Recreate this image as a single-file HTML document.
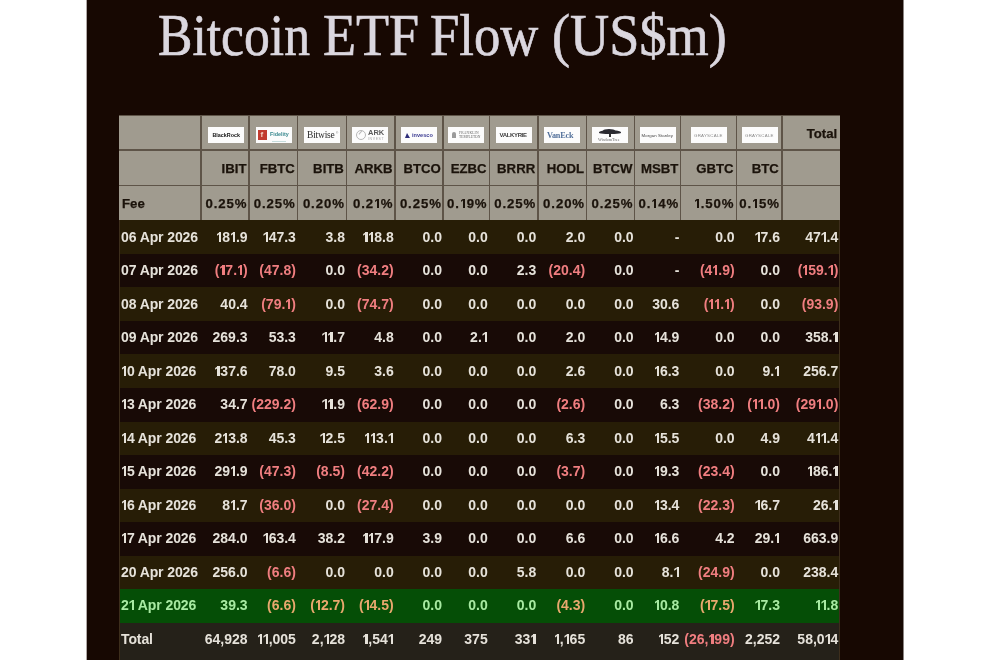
<!DOCTYPE html>
<html><head><meta charset="utf-8"><style>
html,body{margin:0;padding:0;background:#fff;width:990px;height:660px;overflow:hidden;}
#p{left:87px;top:0;width:816px;height:660px;background:#170802;}
#wrap>div,#wrap>span,.lg span{position:absolute;}
#wrap{position:absolute;left:0;top:0;width:990px;height:660px;background:#fff;filter:blur(0.35px);}
.o,.oh{display:inline-block;position:relative;width:5.9px;height:10px;}
.o::before,.oh::before{content:"";position:absolute;left:3.0px;top:0;width:2.1px;height:100%;background:currentColor;}
.o::after,.oh::after{content:"";position:absolute;left:0.7px;top:0.2px;width:2.6px;height:3.5px;background:currentColor;clip-path:polygon(100% 0,100% 50%,0 100%,0 55%);}
.oh{width:6.0px;height:9.45px;margin-right:0.9px;}
.oh::before{left:3.0px;width:2.0px;}
.oh::after{left:0.8px;width:2.4px;height:3.6px;}
.t{display:block;will-change:transform;height:20px;line-height:20px;white-space:nowrap;font-family:"Liberation Sans",sans-serif;font-weight:bold;}
.lg{background:#fcfcfc;overflow:hidden;will-change:transform;}
.lg span{white-space:nowrap;}
.w{top:0.2px;height:70px;line-height:70px;font-family:"Liberation Serif",serif;font-size:59px;color:#dbd7df;-webkit-text-stroke:0.7px #dbd7df;transform-origin:0 0;white-space:nowrap;}
</style></head><body><div id="wrap">
<div id="p"></div>
<div style="left:86px;top:0;width:1px;height:660px;background:#b0a8a6;"></div>
<div style="left:903px;top:0;width:1px;height:660px;background:#8a8482;"></div>
<span class="w" style="left:158.12px;transform:scaleX(0.8750);">Bitcoin</span>
<span class="w" style="left:323.08px;transform:scaleX(0.9167);">ETF</span>
<span class="w" style="left:430.11px;transform:scaleX(0.8926);">Flow</span>
<span class="w" style="left:551.66px;transform:scaleX(0.9194);">(US$m)</span>

<div style="left:119.00px;top:115.00px;width:720.50px;height:105.30px;background:#a09b8f;"></div>
<div style="left:119.00px;top:115.00px;width:720.50px;height:1.00px;background:#5e5448;"></div>
<div style="left:119.00px;top:149.25px;width:720.50px;height:1.50px;background:#5e5448;"></div>
<div style="left:119.00px;top:184.85px;width:720.50px;height:1.50px;background:#5e5448;"></div>
<div style="left:200.25px;top:115.00px;width:1.50px;height:105.30px;background:#5e5448;"></div>
<div style="left:248.25px;top:115.00px;width:1.50px;height:105.30px;background:#5e5448;"></div>
<div style="left:296.55px;top:115.00px;width:1.50px;height:105.30px;background:#5e5448;"></div>
<div style="left:345.95px;top:115.00px;width:1.50px;height:105.30px;background:#5e5448;"></div>
<div style="left:394.05px;top:115.00px;width:1.50px;height:105.30px;background:#5e5448;"></div>
<div style="left:442.45px;top:115.00px;width:1.50px;height:105.30px;background:#5e5448;"></div>
<div style="left:488.55px;top:115.00px;width:1.50px;height:105.30px;background:#5e5448;"></div>
<div style="left:537.25px;top:115.00px;width:1.50px;height:105.30px;background:#5e5448;"></div>
<div style="left:585.85px;top:115.00px;width:1.50px;height:105.30px;background:#5e5448;"></div>
<div style="left:633.85px;top:115.00px;width:1.50px;height:105.30px;background:#5e5448;"></div>
<div style="left:679.65px;top:115.00px;width:1.50px;height:105.30px;background:#5e5448;"></div>
<div style="left:735.65px;top:115.00px;width:1.50px;height:105.30px;background:#5e5448;"></div>
<div style="left:781.05px;top:115.00px;width:1.50px;height:105.30px;background:#5e5448;"></div>
<div class="lg" style="left:207.60px;top:127px;width:36px;height:16px;"><span style="left:4.4px;top:5px;font:bold 5.4px/7px 'Liberation Sans',sans-serif;color:#141414;">BlackRock</span></div>
<div class="lg" style="left:255.60px;top:127px;width:36px;height:16px;"><span style="left:2.4px;top:3px;width:9px;height:9.5px;background:#c23b2f;"></span><span style="left:4.6px;top:3.2px;font:bold 8px/9px 'Liberation Sans',sans-serif;color:#f3d0c0;">f</span><span style="left:14px;top:4.3px;font:bold 5.4px/7px 'Liberation Sans',sans-serif;color:#3b8a90;">Fidelity</span><span style="left:16px;top:13.5px;width:14px;height:0.8px;background:#c6dcdc;"></span></div>
<div class="lg" style="left:303.70px;top:127px;width:36px;height:16px;"><span style="left:3px;top:1.5px;font:9.5px/12px 'Liberation Serif',serif;color:#2a2a2a;letter-spacing:-0.2px;">Bitwise</span><span style="left:32px;top:5px;font:3px/3px 'Liberation Sans',sans-serif;color:#777;">&#174;</span></div>
<div class="lg" style="left:352.30px;top:127px;width:36px;height:16px;"><span style="left:3.5px;top:2.5px;width:10px;height:10px;border:1px solid #b8b8b8;border-radius:50%;box-sizing:border-box;"></span><span style="left:6px;top:5px;width:5px;height:1px;background:#bbb;transform:rotate(-50deg);"></span><span style="left:16px;top:1px;font:bold 7.5px/10px 'Liberation Sans',sans-serif;color:#5a5a5a;">ARK</span><span style="left:16px;top:10px;font:3.5px/5px 'Liberation Sans',sans-serif;color:#aaa;letter-spacing:0.6px;">INVEST</span></div>
<div class="lg" style="left:401.20px;top:127px;width:36px;height:16px;"><span style="left:4px;top:6px;width:0;height:0;border-left:2px solid transparent;border-right:3px solid transparent;border-bottom:5px solid #2e2e7a;"></span><span style="left:11px;top:4.5px;font:bold 5.6px/7px 'Liberation Sans',sans-serif;color:#3b3b92;">invesco</span></div>
<div class="lg" style="left:448.00px;top:127px;width:36px;height:16px;"><span style="left:4px;top:5px;width:4px;height:6px;background:#9a9a9a;border-radius:2px 2px 0 0;"></span><span style="left:11px;top:3.5px;font:3.6px/4.5px 'Liberation Serif',serif;color:#666;letter-spacing:0.2px;">FRANKLIN</span><span style="left:11px;top:8px;font:3.6px/4.5px 'Liberation Serif',serif;color:#666;">TEMPLETON</span></div>
<div class="lg" style="left:495.70px;top:127px;width:36px;height:16px;"><span style="left:3.5px;top:4px;font:bold 6px/8px 'Liberation Sans',sans-serif;color:#3a3a3a;letter-spacing:-0.35px;">VALKYRIE</span></div>
<div class="lg" style="left:543.80px;top:127px;width:36px;height:16px;"><span style="left:3px;top:2.5px;font:bold 8.2px/11px 'Liberation Serif',serif;color:#52709a;letter-spacing:-0.2px;">VanEck</span></div>
<div class="lg" style="left:592.10px;top:127px;width:36px;height:16px;"><span style="left:7px;top:2.5px;width:22px;height:4.5px;background:#2a2a30;border-radius:50% 50% 30% 30%;"></span><span style="left:11px;top:1.5px;width:12px;height:3px;background:#2a2a30;border-radius:50%;"></span><span style="left:17px;top:6.5px;width:2px;height:3px;background:#333;"></span><span style="left:6px;top:10px;font:4.2px/5px 'Liberation Serif',serif;color:#666;">WisdomTree</span></div>
<div class="lg" style="left:640.30px;top:127px;width:36px;height:16px;"><span style="left:1.5px;top:4.5px;font:4.3px/7px 'Liberation Sans',sans-serif;color:#444;letter-spacing:0.1px;">Morgan Stanley</span></div>
<div class="lg" style="left:691.00px;top:127px;width:36px;height:16px;"><span style="left:3px;top:4.8px;font:4.4px/7px 'Liberation Sans',sans-serif;color:#8a8a8a;letter-spacing:0.25px;">GRAYSCALE</span></div>
<div class="lg" style="left:741.50px;top:127px;width:36px;height:16px;"><span style="left:3px;top:4.8px;font:4.4px/7px 'Liberation Sans',sans-serif;color:#8a8a8a;letter-spacing:0.25px;">GRAYSCALE</span></div>
<span class="t" style="left:781.80px;width:55.20px;top:124.00px;text-align:right;color:#1b130b;font-size:13.2px;-webkit-text-stroke:0.25px #1b130b;">Total</span>
<span class="t" style="left:201.00px;width:45.50px;top:158.80px;text-align:right;color:#1b130b;font-size:13.2px;-webkit-text-stroke:0.25px #1b130b;">IBIT</span>
<span class="t" style="left:201.00px;width:46.40px;top:193.70px;text-align:right;color:#1b130b;font-size:13.2px;letter-spacing:0.9px;-webkit-text-stroke:0.25px #1b130b;">0.25%</span>
<span class="t" style="left:249.00px;width:45.80px;top:158.80px;text-align:right;color:#1b130b;font-size:13.2px;-webkit-text-stroke:0.25px #1b130b;">FBTC</span>
<span class="t" style="left:249.00px;width:46.70px;top:193.70px;text-align:right;color:#1b130b;font-size:13.2px;letter-spacing:0.9px;-webkit-text-stroke:0.25px #1b130b;">0.25%</span>
<span class="t" style="left:297.30px;width:46.90px;top:158.80px;text-align:right;color:#1b130b;font-size:13.2px;-webkit-text-stroke:0.25px #1b130b;">BITB</span>
<span class="t" style="left:297.30px;width:47.80px;top:193.70px;text-align:right;color:#1b130b;font-size:13.2px;letter-spacing:0.9px;-webkit-text-stroke:0.25px #1b130b;">0.20%</span>
<span class="t" style="left:346.70px;width:45.60px;top:158.80px;text-align:right;color:#1b130b;font-size:13.2px;-webkit-text-stroke:0.25px #1b130b;">ARKB</span>
<span class="t" style="left:346.70px;width:46.50px;top:193.70px;text-align:right;color:#1b130b;font-size:13.2px;letter-spacing:0.9px;-webkit-text-stroke:0.25px #1b130b;">0.2<span class="oh"></span>%</span>
<span class="t" style="left:394.80px;width:45.90px;top:158.80px;text-align:right;color:#1b130b;font-size:13.2px;-webkit-text-stroke:0.25px #1b130b;">BTCO</span>
<span class="t" style="left:394.80px;width:46.80px;top:193.70px;text-align:right;color:#1b130b;font-size:13.2px;letter-spacing:0.9px;-webkit-text-stroke:0.25px #1b130b;">0.25%</span>
<span class="t" style="left:443.20px;width:43.60px;top:158.80px;text-align:right;color:#1b130b;font-size:13.2px;-webkit-text-stroke:0.25px #1b130b;">EZBC</span>
<span class="t" style="left:443.20px;width:44.50px;top:193.70px;text-align:right;color:#1b130b;font-size:13.2px;letter-spacing:0.9px;-webkit-text-stroke:0.25px #1b130b;">0.<span class="oh"></span>9%</span>
<span class="t" style="left:489.30px;width:46.20px;top:158.80px;text-align:right;color:#1b130b;font-size:13.2px;-webkit-text-stroke:0.25px #1b130b;">BRRR</span>
<span class="t" style="left:489.30px;width:47.10px;top:193.70px;text-align:right;color:#1b130b;font-size:13.2px;letter-spacing:0.9px;-webkit-text-stroke:0.25px #1b130b;">0.25%</span>
<span class="t" style="left:538.00px;width:46.10px;top:158.80px;text-align:right;color:#1b130b;font-size:13.2px;-webkit-text-stroke:0.25px #1b130b;">HODL</span>
<span class="t" style="left:538.00px;width:47.00px;top:193.70px;text-align:right;color:#1b130b;font-size:13.2px;letter-spacing:0.9px;-webkit-text-stroke:0.25px #1b130b;">0.20%</span>
<span class="t" style="left:586.60px;width:45.50px;top:158.80px;text-align:right;color:#1b130b;font-size:13.2px;-webkit-text-stroke:0.25px #1b130b;">BTCW</span>
<span class="t" style="left:586.60px;width:46.40px;top:193.70px;text-align:right;color:#1b130b;font-size:13.2px;letter-spacing:0.9px;-webkit-text-stroke:0.25px #1b130b;">0.25%</span>
<span class="t" style="left:634.60px;width:43.30px;top:158.80px;text-align:right;color:#1b130b;font-size:13.2px;-webkit-text-stroke:0.25px #1b130b;">MSBT</span>
<span class="t" style="left:634.60px;width:44.20px;top:193.70px;text-align:right;color:#1b130b;font-size:13.2px;letter-spacing:0.9px;-webkit-text-stroke:0.25px #1b130b;">0.<span class="oh"></span>4%</span>
<span class="t" style="left:680.40px;width:53.50px;top:158.80px;text-align:right;color:#1b130b;font-size:13.2px;-webkit-text-stroke:0.25px #1b130b;">GBTC</span>
<span class="t" style="left:680.40px;width:54.40px;top:193.70px;text-align:right;color:#1b130b;font-size:13.2px;letter-spacing:0.9px;-webkit-text-stroke:0.25px #1b130b;"><span class="oh"></span>.50%</span>
<span class="t" style="left:736.40px;width:42.90px;top:158.80px;text-align:right;color:#1b130b;font-size:13.2px;-webkit-text-stroke:0.25px #1b130b;">BTC</span>
<span class="t" style="left:736.40px;width:43.80px;top:193.70px;text-align:right;color:#1b130b;font-size:13.2px;letter-spacing:0.9px;-webkit-text-stroke:0.25px #1b130b;">0.<span class="oh"></span>5%</span>
<span class="t" style="left:122.00px;width:82.00px;top:193.50px;text-align:left;color:#1b130b;font-size:13.2px;-webkit-text-stroke:0.25px #1b130b;">Fee</span>
<div style="left:119.00px;top:220.30px;width:720.50px;height:33.54px;background:#271d06;"></div>
<span class="t" style="left:120.50px;width:82.00px;top:227.00px;text-align:left;color:#e6e2da;font-size:14px;letter-spacing:-0.1px;">06 Apr 2026</span>
<span class="t" style="left:201.00px;width:46.60px;top:227.00px;text-align:right;color:#e6e2da;font-size:14px;"><span class="o"></span>8<span class="o"></span>.9</span>
<span class="t" style="left:249.00px;width:46.90px;top:227.00px;text-align:right;color:#e6e2da;font-size:14px;"><span class="o"></span>47.3</span>
<span class="t" style="left:297.30px;width:48.00px;top:227.00px;text-align:right;color:#e6e2da;font-size:14px;">3.8</span>
<span class="t" style="left:346.70px;width:46.70px;top:227.00px;text-align:right;color:#e6e2da;font-size:14px;"><span class="o"></span><span class="o"></span>8.8</span>
<span class="t" style="left:394.80px;width:47.00px;top:227.00px;text-align:right;color:#e6e2da;font-size:14px;">0.0</span>
<span class="t" style="left:443.20px;width:44.70px;top:227.00px;text-align:right;color:#e6e2da;font-size:14px;">0.0</span>
<span class="t" style="left:489.30px;width:47.30px;top:227.00px;text-align:right;color:#e6e2da;font-size:14px;">0.0</span>
<span class="t" style="left:538.00px;width:47.20px;top:227.00px;text-align:right;color:#e6e2da;font-size:14px;">2.0</span>
<span class="t" style="left:586.60px;width:46.60px;top:227.00px;text-align:right;color:#e6e2da;font-size:14px;">0.0</span>
<span class="t" style="left:634.60px;width:44.40px;top:227.00px;text-align:right;color:#e6e2da;font-size:14px;">-</span>
<span class="t" style="left:680.40px;width:54.60px;top:227.00px;text-align:right;color:#e6e2da;font-size:14px;">0.0</span>
<span class="t" style="left:736.40px;width:44.00px;top:227.00px;text-align:right;color:#e6e2da;font-size:14px;"><span class="o"></span>7.6</span>
<span class="t" style="left:781.80px;width:56.30px;top:227.00px;text-align:right;color:#e6e2da;font-size:14px;">47<span class="o"></span>.4</span>
<div style="left:119.00px;top:253.84px;width:720.50px;height:33.54px;background:#180a06;"></div>
<span class="t" style="left:120.50px;width:82.00px;top:260.47px;text-align:left;color:#e6e2da;font-size:14px;letter-spacing:-0.1px;">07 Apr 2026</span>
<span class="t" style="left:201.00px;width:46.60px;top:260.47px;text-align:right;color:#f07e80;font-size:14px;">(<span class="o"></span>7.<span class="o"></span>)</span>
<span class="t" style="left:249.00px;width:46.90px;top:260.47px;text-align:right;color:#f07e80;font-size:14px;">(47.8)</span>
<span class="t" style="left:297.30px;width:48.00px;top:260.47px;text-align:right;color:#e6e2da;font-size:14px;">0.0</span>
<span class="t" style="left:346.70px;width:46.70px;top:260.47px;text-align:right;color:#f07e80;font-size:14px;">(34.2)</span>
<span class="t" style="left:394.80px;width:47.00px;top:260.47px;text-align:right;color:#e6e2da;font-size:14px;">0.0</span>
<span class="t" style="left:443.20px;width:44.70px;top:260.47px;text-align:right;color:#e6e2da;font-size:14px;">0.0</span>
<span class="t" style="left:489.30px;width:47.30px;top:260.47px;text-align:right;color:#e6e2da;font-size:14px;">2.3</span>
<span class="t" style="left:538.00px;width:47.20px;top:260.47px;text-align:right;color:#f07e80;font-size:14px;">(20.4)</span>
<span class="t" style="left:586.60px;width:46.60px;top:260.47px;text-align:right;color:#e6e2da;font-size:14px;">0.0</span>
<span class="t" style="left:634.60px;width:44.40px;top:260.47px;text-align:right;color:#e6e2da;font-size:14px;">-</span>
<span class="t" style="left:680.40px;width:54.60px;top:260.47px;text-align:right;color:#f07e80;font-size:14px;">(4<span class="o"></span>.9)</span>
<span class="t" style="left:736.40px;width:44.00px;top:260.47px;text-align:right;color:#e6e2da;font-size:14px;">0.0</span>
<span class="t" style="left:781.80px;width:56.30px;top:260.47px;text-align:right;color:#f07e80;font-size:14px;">(<span class="o"></span>59.<span class="o"></span>)</span>
<div style="left:119.00px;top:287.38px;width:720.50px;height:33.54px;background:#271d06;"></div>
<span class="t" style="left:120.50px;width:82.00px;top:293.94px;text-align:left;color:#e6e2da;font-size:14px;letter-spacing:-0.1px;">08 Apr 2026</span>
<span class="t" style="left:201.00px;width:46.60px;top:293.94px;text-align:right;color:#e6e2da;font-size:14px;">40.4</span>
<span class="t" style="left:249.00px;width:46.90px;top:293.94px;text-align:right;color:#f07e80;font-size:14px;">(79.<span class="o"></span>)</span>
<span class="t" style="left:297.30px;width:48.00px;top:293.94px;text-align:right;color:#e6e2da;font-size:14px;">0.0</span>
<span class="t" style="left:346.70px;width:46.70px;top:293.94px;text-align:right;color:#f07e80;font-size:14px;">(74.7)</span>
<span class="t" style="left:394.80px;width:47.00px;top:293.94px;text-align:right;color:#e6e2da;font-size:14px;">0.0</span>
<span class="t" style="left:443.20px;width:44.70px;top:293.94px;text-align:right;color:#e6e2da;font-size:14px;">0.0</span>
<span class="t" style="left:489.30px;width:47.30px;top:293.94px;text-align:right;color:#e6e2da;font-size:14px;">0.0</span>
<span class="t" style="left:538.00px;width:47.20px;top:293.94px;text-align:right;color:#e6e2da;font-size:14px;">0.0</span>
<span class="t" style="left:586.60px;width:46.60px;top:293.94px;text-align:right;color:#e6e2da;font-size:14px;">0.0</span>
<span class="t" style="left:634.60px;width:44.40px;top:293.94px;text-align:right;color:#e6e2da;font-size:14px;">30.6</span>
<span class="t" style="left:680.40px;width:54.60px;top:293.94px;text-align:right;color:#f07e80;font-size:14px;">(<span class="o"></span><span class="o"></span>.<span class="o"></span>)</span>
<span class="t" style="left:736.40px;width:44.00px;top:293.94px;text-align:right;color:#e6e2da;font-size:14px;">0.0</span>
<span class="t" style="left:781.80px;width:56.30px;top:293.94px;text-align:right;color:#f07e80;font-size:14px;">(93.9)</span>
<div style="left:119.00px;top:320.93px;width:720.50px;height:33.54px;background:#180a06;"></div>
<span class="t" style="left:120.50px;width:82.00px;top:327.41px;text-align:left;color:#e6e2da;font-size:14px;letter-spacing:-0.1px;">09 Apr 2026</span>
<span class="t" style="left:201.00px;width:46.60px;top:327.41px;text-align:right;color:#e6e2da;font-size:14px;">269.3</span>
<span class="t" style="left:249.00px;width:46.90px;top:327.41px;text-align:right;color:#e6e2da;font-size:14px;">53.3</span>
<span class="t" style="left:297.30px;width:48.00px;top:327.41px;text-align:right;color:#e6e2da;font-size:14px;"><span class="o"></span><span class="o"></span>.7</span>
<span class="t" style="left:346.70px;width:46.70px;top:327.41px;text-align:right;color:#e6e2da;font-size:14px;">4.8</span>
<span class="t" style="left:394.80px;width:47.00px;top:327.41px;text-align:right;color:#e6e2da;font-size:14px;">0.0</span>
<span class="t" style="left:443.20px;width:44.70px;top:327.41px;text-align:right;color:#e6e2da;font-size:14px;">2.<span class="o"></span></span>
<span class="t" style="left:489.30px;width:47.30px;top:327.41px;text-align:right;color:#e6e2da;font-size:14px;">0.0</span>
<span class="t" style="left:538.00px;width:47.20px;top:327.41px;text-align:right;color:#e6e2da;font-size:14px;">2.0</span>
<span class="t" style="left:586.60px;width:46.60px;top:327.41px;text-align:right;color:#e6e2da;font-size:14px;">0.0</span>
<span class="t" style="left:634.60px;width:44.40px;top:327.41px;text-align:right;color:#e6e2da;font-size:14px;"><span class="o"></span>4.9</span>
<span class="t" style="left:680.40px;width:54.60px;top:327.41px;text-align:right;color:#e6e2da;font-size:14px;">0.0</span>
<span class="t" style="left:736.40px;width:44.00px;top:327.41px;text-align:right;color:#e6e2da;font-size:14px;">0.0</span>
<span class="t" style="left:781.80px;width:56.30px;top:327.41px;text-align:right;color:#e6e2da;font-size:14px;">358.<span class="o"></span></span>
<div style="left:119.00px;top:354.47px;width:720.50px;height:33.54px;background:#271d06;"></div>
<span class="t" style="left:120.50px;width:82.00px;top:360.88px;text-align:left;color:#e6e2da;font-size:14px;letter-spacing:-0.1px;"><span class="o"></span>0 Apr 2026</span>
<span class="t" style="left:201.00px;width:46.60px;top:360.88px;text-align:right;color:#e6e2da;font-size:14px;"><span class="o"></span>37.6</span>
<span class="t" style="left:249.00px;width:46.90px;top:360.88px;text-align:right;color:#e6e2da;font-size:14px;">78.0</span>
<span class="t" style="left:297.30px;width:48.00px;top:360.88px;text-align:right;color:#e6e2da;font-size:14px;">9.5</span>
<span class="t" style="left:346.70px;width:46.70px;top:360.88px;text-align:right;color:#e6e2da;font-size:14px;">3.6</span>
<span class="t" style="left:394.80px;width:47.00px;top:360.88px;text-align:right;color:#e6e2da;font-size:14px;">0.0</span>
<span class="t" style="left:443.20px;width:44.70px;top:360.88px;text-align:right;color:#e6e2da;font-size:14px;">0.0</span>
<span class="t" style="left:489.30px;width:47.30px;top:360.88px;text-align:right;color:#e6e2da;font-size:14px;">0.0</span>
<span class="t" style="left:538.00px;width:47.20px;top:360.88px;text-align:right;color:#e6e2da;font-size:14px;">2.6</span>
<span class="t" style="left:586.60px;width:46.60px;top:360.88px;text-align:right;color:#e6e2da;font-size:14px;">0.0</span>
<span class="t" style="left:634.60px;width:44.40px;top:360.88px;text-align:right;color:#e6e2da;font-size:14px;"><span class="o"></span>6.3</span>
<span class="t" style="left:680.40px;width:54.60px;top:360.88px;text-align:right;color:#e6e2da;font-size:14px;">0.0</span>
<span class="t" style="left:736.40px;width:44.00px;top:360.88px;text-align:right;color:#e6e2da;font-size:14px;">9.<span class="o"></span></span>
<span class="t" style="left:781.80px;width:56.30px;top:360.88px;text-align:right;color:#e6e2da;font-size:14px;">256.7</span>
<div style="left:119.00px;top:388.01px;width:720.50px;height:33.54px;background:#180a06;"></div>
<span class="t" style="left:120.50px;width:82.00px;top:394.35px;text-align:left;color:#e6e2da;font-size:14px;letter-spacing:-0.1px;"><span class="o"></span>3 Apr 2026</span>
<span class="t" style="left:201.00px;width:46.60px;top:394.35px;text-align:right;color:#e6e2da;font-size:14px;">34.7</span>
<span class="t" style="left:249.00px;width:46.90px;top:394.35px;text-align:right;color:#f07e80;font-size:14px;">(229.2)</span>
<span class="t" style="left:297.30px;width:48.00px;top:394.35px;text-align:right;color:#e6e2da;font-size:14px;"><span class="o"></span><span class="o"></span>.9</span>
<span class="t" style="left:346.70px;width:46.70px;top:394.35px;text-align:right;color:#f07e80;font-size:14px;">(62.9)</span>
<span class="t" style="left:394.80px;width:47.00px;top:394.35px;text-align:right;color:#e6e2da;font-size:14px;">0.0</span>
<span class="t" style="left:443.20px;width:44.70px;top:394.35px;text-align:right;color:#e6e2da;font-size:14px;">0.0</span>
<span class="t" style="left:489.30px;width:47.30px;top:394.35px;text-align:right;color:#e6e2da;font-size:14px;">0.0</span>
<span class="t" style="left:538.00px;width:47.20px;top:394.35px;text-align:right;color:#f07e80;font-size:14px;">(2.6)</span>
<span class="t" style="left:586.60px;width:46.60px;top:394.35px;text-align:right;color:#e6e2da;font-size:14px;">0.0</span>
<span class="t" style="left:634.60px;width:44.40px;top:394.35px;text-align:right;color:#e6e2da;font-size:14px;">6.3</span>
<span class="t" style="left:680.40px;width:54.60px;top:394.35px;text-align:right;color:#f07e80;font-size:14px;">(38.2)</span>
<span class="t" style="left:736.40px;width:44.00px;top:394.35px;text-align:right;color:#f07e80;font-size:14px;">(<span class="o"></span><span class="o"></span>.0)</span>
<span class="t" style="left:781.80px;width:56.30px;top:394.35px;text-align:right;color:#f07e80;font-size:14px;">(29<span class="o"></span>.0)</span>
<div style="left:119.00px;top:421.55px;width:720.50px;height:33.54px;background:#271d06;"></div>
<span class="t" style="left:120.50px;width:82.00px;top:427.82px;text-align:left;color:#e6e2da;font-size:14px;letter-spacing:-0.1px;"><span class="o"></span>4 Apr 2026</span>
<span class="t" style="left:201.00px;width:46.60px;top:427.82px;text-align:right;color:#e6e2da;font-size:14px;">2<span class="o"></span>3.8</span>
<span class="t" style="left:249.00px;width:46.90px;top:427.82px;text-align:right;color:#e6e2da;font-size:14px;">45.3</span>
<span class="t" style="left:297.30px;width:48.00px;top:427.82px;text-align:right;color:#e6e2da;font-size:14px;"><span class="o"></span>2.5</span>
<span class="t" style="left:346.70px;width:46.70px;top:427.82px;text-align:right;color:#e6e2da;font-size:14px;"><span class="o"></span><span class="o"></span>3.<span class="o"></span></span>
<span class="t" style="left:394.80px;width:47.00px;top:427.82px;text-align:right;color:#e6e2da;font-size:14px;">0.0</span>
<span class="t" style="left:443.20px;width:44.70px;top:427.82px;text-align:right;color:#e6e2da;font-size:14px;">0.0</span>
<span class="t" style="left:489.30px;width:47.30px;top:427.82px;text-align:right;color:#e6e2da;font-size:14px;">0.0</span>
<span class="t" style="left:538.00px;width:47.20px;top:427.82px;text-align:right;color:#e6e2da;font-size:14px;">6.3</span>
<span class="t" style="left:586.60px;width:46.60px;top:427.82px;text-align:right;color:#e6e2da;font-size:14px;">0.0</span>
<span class="t" style="left:634.60px;width:44.40px;top:427.82px;text-align:right;color:#e6e2da;font-size:14px;"><span class="o"></span>5.5</span>
<span class="t" style="left:680.40px;width:54.60px;top:427.82px;text-align:right;color:#e6e2da;font-size:14px;">0.0</span>
<span class="t" style="left:736.40px;width:44.00px;top:427.82px;text-align:right;color:#e6e2da;font-size:14px;">4.9</span>
<span class="t" style="left:781.80px;width:56.30px;top:427.82px;text-align:right;color:#e6e2da;font-size:14px;">4<span class="o"></span><span class="o"></span>.4</span>
<div style="left:119.00px;top:455.09px;width:720.50px;height:33.54px;background:#180a06;"></div>
<span class="t" style="left:120.50px;width:82.00px;top:461.29px;text-align:left;color:#e6e2da;font-size:14px;letter-spacing:-0.1px;"><span class="o"></span>5 Apr 2026</span>
<span class="t" style="left:201.00px;width:46.60px;top:461.29px;text-align:right;color:#e6e2da;font-size:14px;">29<span class="o"></span>.9</span>
<span class="t" style="left:249.00px;width:46.90px;top:461.29px;text-align:right;color:#f07e80;font-size:14px;">(47.3)</span>
<span class="t" style="left:297.30px;width:48.00px;top:461.29px;text-align:right;color:#f07e80;font-size:14px;">(8.5)</span>
<span class="t" style="left:346.70px;width:46.70px;top:461.29px;text-align:right;color:#f07e80;font-size:14px;">(42.2)</span>
<span class="t" style="left:394.80px;width:47.00px;top:461.29px;text-align:right;color:#e6e2da;font-size:14px;">0.0</span>
<span class="t" style="left:443.20px;width:44.70px;top:461.29px;text-align:right;color:#e6e2da;font-size:14px;">0.0</span>
<span class="t" style="left:489.30px;width:47.30px;top:461.29px;text-align:right;color:#e6e2da;font-size:14px;">0.0</span>
<span class="t" style="left:538.00px;width:47.20px;top:461.29px;text-align:right;color:#f07e80;font-size:14px;">(3.7)</span>
<span class="t" style="left:586.60px;width:46.60px;top:461.29px;text-align:right;color:#e6e2da;font-size:14px;">0.0</span>
<span class="t" style="left:634.60px;width:44.40px;top:461.29px;text-align:right;color:#e6e2da;font-size:14px;"><span class="o"></span>9.3</span>
<span class="t" style="left:680.40px;width:54.60px;top:461.29px;text-align:right;color:#f07e80;font-size:14px;">(23.4)</span>
<span class="t" style="left:736.40px;width:44.00px;top:461.29px;text-align:right;color:#e6e2da;font-size:14px;">0.0</span>
<span class="t" style="left:781.80px;width:56.30px;top:461.29px;text-align:right;color:#e6e2da;font-size:14px;"><span class="o"></span>86.<span class="o"></span></span>
<div style="left:119.00px;top:488.63px;width:720.50px;height:33.54px;background:#271d06;"></div>
<span class="t" style="left:120.50px;width:82.00px;top:494.76px;text-align:left;color:#e6e2da;font-size:14px;letter-spacing:-0.1px;"><span class="o"></span>6 Apr 2026</span>
<span class="t" style="left:201.00px;width:46.60px;top:494.76px;text-align:right;color:#e6e2da;font-size:14px;">8<span class="o"></span>.7</span>
<span class="t" style="left:249.00px;width:46.90px;top:494.76px;text-align:right;color:#f07e80;font-size:14px;">(36.0)</span>
<span class="t" style="left:297.30px;width:48.00px;top:494.76px;text-align:right;color:#e6e2da;font-size:14px;">0.0</span>
<span class="t" style="left:346.70px;width:46.70px;top:494.76px;text-align:right;color:#f07e80;font-size:14px;">(27.4)</span>
<span class="t" style="left:394.80px;width:47.00px;top:494.76px;text-align:right;color:#e6e2da;font-size:14px;">0.0</span>
<span class="t" style="left:443.20px;width:44.70px;top:494.76px;text-align:right;color:#e6e2da;font-size:14px;">0.0</span>
<span class="t" style="left:489.30px;width:47.30px;top:494.76px;text-align:right;color:#e6e2da;font-size:14px;">0.0</span>
<span class="t" style="left:538.00px;width:47.20px;top:494.76px;text-align:right;color:#e6e2da;font-size:14px;">0.0</span>
<span class="t" style="left:586.60px;width:46.60px;top:494.76px;text-align:right;color:#e6e2da;font-size:14px;">0.0</span>
<span class="t" style="left:634.60px;width:44.40px;top:494.76px;text-align:right;color:#e6e2da;font-size:14px;"><span class="o"></span>3.4</span>
<span class="t" style="left:680.40px;width:54.60px;top:494.76px;text-align:right;color:#f07e80;font-size:14px;">(22.3)</span>
<span class="t" style="left:736.40px;width:44.00px;top:494.76px;text-align:right;color:#e6e2da;font-size:14px;"><span class="o"></span>6.7</span>
<span class="t" style="left:781.80px;width:56.30px;top:494.76px;text-align:right;color:#e6e2da;font-size:14px;">26.<span class="o"></span></span>
<div style="left:119.00px;top:522.17px;width:720.50px;height:33.54px;background:#180a06;"></div>
<span class="t" style="left:120.50px;width:82.00px;top:528.23px;text-align:left;color:#e6e2da;font-size:14px;letter-spacing:-0.1px;"><span class="o"></span>7 Apr 2026</span>
<span class="t" style="left:201.00px;width:46.60px;top:528.23px;text-align:right;color:#e6e2da;font-size:14px;">284.0</span>
<span class="t" style="left:249.00px;width:46.90px;top:528.23px;text-align:right;color:#e6e2da;font-size:14px;"><span class="o"></span>63.4</span>
<span class="t" style="left:297.30px;width:48.00px;top:528.23px;text-align:right;color:#e6e2da;font-size:14px;">38.2</span>
<span class="t" style="left:346.70px;width:46.70px;top:528.23px;text-align:right;color:#e6e2da;font-size:14px;"><span class="o"></span><span class="o"></span>7.9</span>
<span class="t" style="left:394.80px;width:47.00px;top:528.23px;text-align:right;color:#e6e2da;font-size:14px;">3.9</span>
<span class="t" style="left:443.20px;width:44.70px;top:528.23px;text-align:right;color:#e6e2da;font-size:14px;">0.0</span>
<span class="t" style="left:489.30px;width:47.30px;top:528.23px;text-align:right;color:#e6e2da;font-size:14px;">0.0</span>
<span class="t" style="left:538.00px;width:47.20px;top:528.23px;text-align:right;color:#e6e2da;font-size:14px;">6.6</span>
<span class="t" style="left:586.60px;width:46.60px;top:528.23px;text-align:right;color:#e6e2da;font-size:14px;">0.0</span>
<span class="t" style="left:634.60px;width:44.40px;top:528.23px;text-align:right;color:#e6e2da;font-size:14px;"><span class="o"></span>6.6</span>
<span class="t" style="left:680.40px;width:54.60px;top:528.23px;text-align:right;color:#e6e2da;font-size:14px;">4.2</span>
<span class="t" style="left:736.40px;width:44.00px;top:528.23px;text-align:right;color:#e6e2da;font-size:14px;">29.<span class="o"></span></span>
<span class="t" style="left:781.80px;width:56.30px;top:528.23px;text-align:right;color:#e6e2da;font-size:14px;">663.9</span>
<div style="left:119.00px;top:555.72px;width:720.50px;height:33.54px;background:#271d06;"></div>
<span class="t" style="left:120.50px;width:82.00px;top:561.70px;text-align:left;color:#e6e2da;font-size:14px;letter-spacing:-0.1px;">20 Apr 2026</span>
<span class="t" style="left:201.00px;width:46.60px;top:561.70px;text-align:right;color:#e6e2da;font-size:14px;">256.0</span>
<span class="t" style="left:249.00px;width:46.90px;top:561.70px;text-align:right;color:#f07e80;font-size:14px;">(6.6)</span>
<span class="t" style="left:297.30px;width:48.00px;top:561.70px;text-align:right;color:#e6e2da;font-size:14px;">0.0</span>
<span class="t" style="left:346.70px;width:46.70px;top:561.70px;text-align:right;color:#e6e2da;font-size:14px;">0.0</span>
<span class="t" style="left:394.80px;width:47.00px;top:561.70px;text-align:right;color:#e6e2da;font-size:14px;">0.0</span>
<span class="t" style="left:443.20px;width:44.70px;top:561.70px;text-align:right;color:#e6e2da;font-size:14px;">0.0</span>
<span class="t" style="left:489.30px;width:47.30px;top:561.70px;text-align:right;color:#e6e2da;font-size:14px;">5.8</span>
<span class="t" style="left:538.00px;width:47.20px;top:561.70px;text-align:right;color:#e6e2da;font-size:14px;">0.0</span>
<span class="t" style="left:586.60px;width:46.60px;top:561.70px;text-align:right;color:#e6e2da;font-size:14px;">0.0</span>
<span class="t" style="left:634.60px;width:44.40px;top:561.70px;text-align:right;color:#e6e2da;font-size:14px;">8.<span class="o"></span></span>
<span class="t" style="left:680.40px;width:54.60px;top:561.70px;text-align:right;color:#f07e80;font-size:14px;">(24.9)</span>
<span class="t" style="left:736.40px;width:44.00px;top:561.70px;text-align:right;color:#e6e2da;font-size:14px;">0.0</span>
<span class="t" style="left:781.80px;width:56.30px;top:561.70px;text-align:right;color:#e6e2da;font-size:14px;">238.4</span>
<div style="left:119.00px;top:589.26px;width:720.50px;height:33.54px;background:#054e06;"></div>
<span class="t" style="left:120.50px;width:82.00px;top:595.17px;text-align:left;color:#a8eaa2;font-size:14px;letter-spacing:-0.1px;">2<span class="o"></span> Apr 2026</span>
<span class="t" style="left:201.00px;width:46.60px;top:595.17px;text-align:right;color:#a8eaa2;font-size:14px;">39.3</span>
<span class="t" style="left:249.00px;width:46.90px;top:595.17px;text-align:right;color:#e8a86e;font-size:14px;">(6.6)</span>
<span class="t" style="left:297.30px;width:48.00px;top:595.17px;text-align:right;color:#e8a86e;font-size:14px;">(<span class="o"></span>2.7)</span>
<span class="t" style="left:346.70px;width:46.70px;top:595.17px;text-align:right;color:#e8a86e;font-size:14px;">(<span class="o"></span>4.5)</span>
<span class="t" style="left:394.80px;width:47.00px;top:595.17px;text-align:right;color:#a8eaa2;font-size:14px;">0.0</span>
<span class="t" style="left:443.20px;width:44.70px;top:595.17px;text-align:right;color:#a8eaa2;font-size:14px;">0.0</span>
<span class="t" style="left:489.30px;width:47.30px;top:595.17px;text-align:right;color:#a8eaa2;font-size:14px;">0.0</span>
<span class="t" style="left:538.00px;width:47.20px;top:595.17px;text-align:right;color:#e8a86e;font-size:14px;">(4.3)</span>
<span class="t" style="left:586.60px;width:46.60px;top:595.17px;text-align:right;color:#a8eaa2;font-size:14px;">0.0</span>
<span class="t" style="left:634.60px;width:44.40px;top:595.17px;text-align:right;color:#a8eaa2;font-size:14px;"><span class="o"></span>0.8</span>
<span class="t" style="left:680.40px;width:54.60px;top:595.17px;text-align:right;color:#e8a86e;font-size:14px;">(<span class="o"></span>7.5)</span>
<span class="t" style="left:736.40px;width:44.00px;top:595.17px;text-align:right;color:#a8eaa2;font-size:14px;"><span class="o"></span>7.3</span>
<span class="t" style="left:781.80px;width:56.30px;top:595.17px;text-align:right;color:#a8eaa2;font-size:14px;"><span class="o"></span><span class="o"></span>.8</span>
<div style="left:119.00px;top:622.80px;width:720.50px;height:37.20px;background:#252119;"></div>
<span class="t" style="left:120.50px;width:82.00px;top:628.64px;text-align:left;color:#e6e2da;font-size:14px;letter-spacing:-0.1px;">Total</span>
<span class="t" style="left:201.00px;width:46.60px;top:628.64px;text-align:right;color:#e6e2da;font-size:14px;">64,928</span>
<span class="t" style="left:249.00px;width:46.90px;top:628.64px;text-align:right;color:#e6e2da;font-size:14px;"><span class="o"></span><span class="o"></span>,005</span>
<span class="t" style="left:297.30px;width:48.00px;top:628.64px;text-align:right;color:#e6e2da;font-size:14px;">2,<span class="o"></span>28</span>
<span class="t" style="left:346.70px;width:46.70px;top:628.64px;text-align:right;color:#e6e2da;font-size:14px;"><span class="o"></span>,54<span class="o"></span></span>
<span class="t" style="left:394.80px;width:47.00px;top:628.64px;text-align:right;color:#e6e2da;font-size:14px;">249</span>
<span class="t" style="left:443.20px;width:44.70px;top:628.64px;text-align:right;color:#e6e2da;font-size:14px;">375</span>
<span class="t" style="left:489.30px;width:47.30px;top:628.64px;text-align:right;color:#e6e2da;font-size:14px;">33<span class="o"></span></span>
<span class="t" style="left:538.00px;width:47.20px;top:628.64px;text-align:right;color:#e6e2da;font-size:14px;"><span class="o"></span>,<span class="o"></span>65</span>
<span class="t" style="left:586.60px;width:46.60px;top:628.64px;text-align:right;color:#e6e2da;font-size:14px;">86</span>
<span class="t" style="left:634.60px;width:44.40px;top:628.64px;text-align:right;color:#e6e2da;font-size:14px;"><span class="o"></span>52</span>
<span class="t" style="left:680.40px;width:54.60px;top:628.64px;text-align:right;color:#f07e80;font-size:14px;">(26,<span class="o"></span>99)</span>
<span class="t" style="left:736.40px;width:44.00px;top:628.64px;text-align:right;color:#e6e2da;font-size:14px;">2,252</span>
<span class="t" style="left:781.80px;width:56.30px;top:628.64px;text-align:right;color:#e6e2da;font-size:14px;">58,0<span class="o"></span>4</span>
<div style="left:118.50px;top:220.30px;width:1.30px;height:439.70px;background:#3d2e1c;"></div>
<div style="left:838.70px;top:220.30px;width:1.30px;height:439.70px;background:#3d2e1c;"></div>
</div></body></html>
